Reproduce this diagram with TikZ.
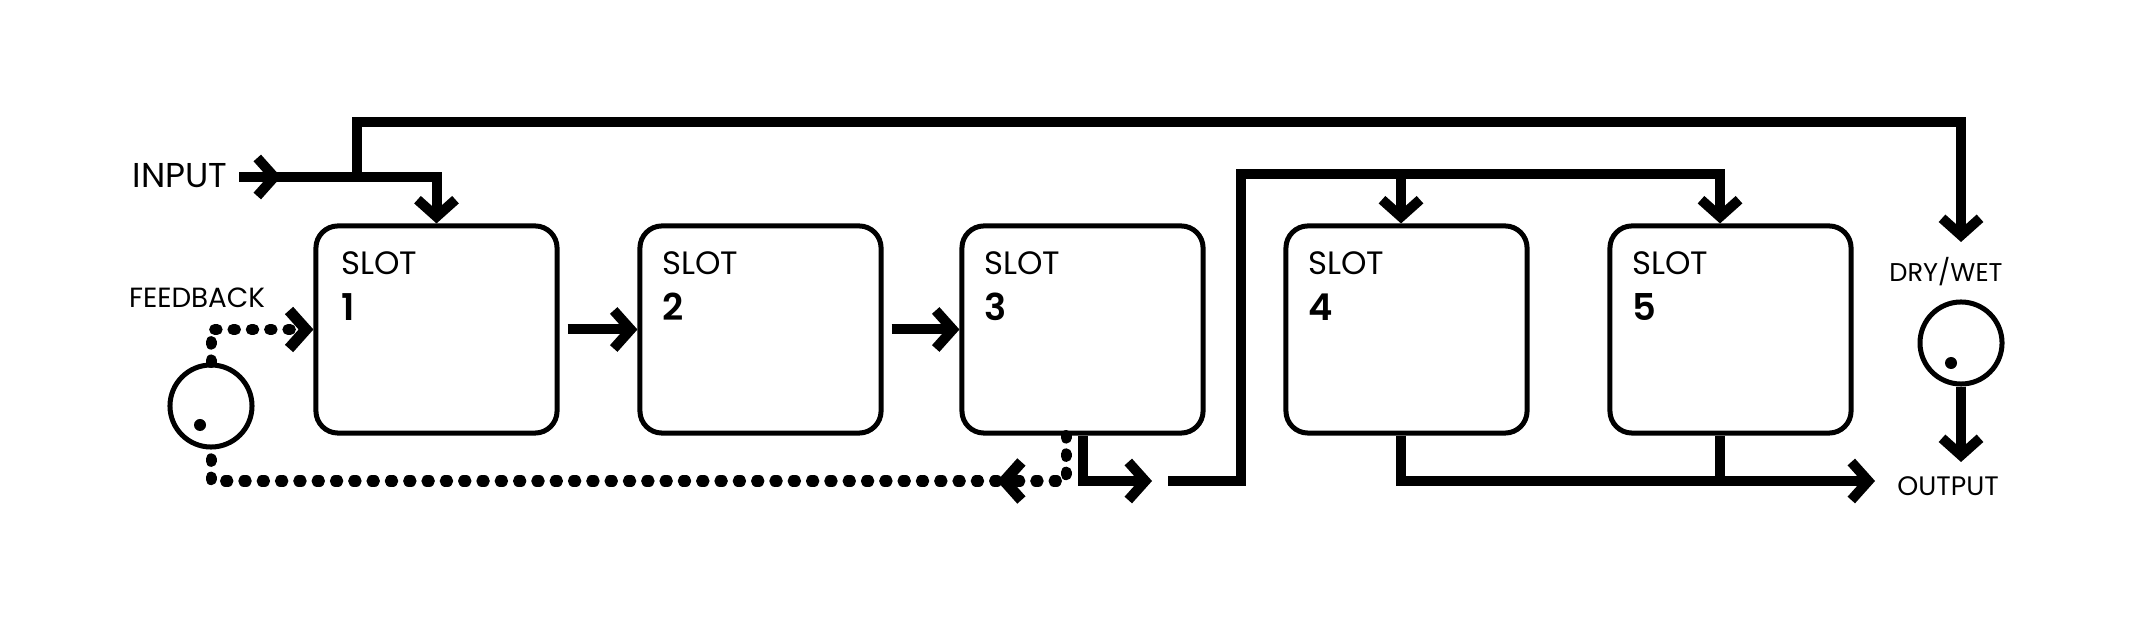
\documentclass[tikz,border=0pt]{standalone}
\usepackage{fontspec}
\setmainfont{Poppins}
\newfontfamily\numfont{Poppins SemiBold}
\usetikzlibrary{arrows.meta,positioning}

\begin{document}
\begin{tikzpicture}[x=0.01cm,y=-0.01cm,
  wire/.style={line width=0.1cm},
  dots/.style={line width=0.11cm,line cap=round,dash pattern=on 0.025cm off 0.158cm},
  slot/.style={draw,line width=0.05cm,rounded corners=0.22cm,minimum width=2.41cm,minimum height=2.07cm,inner sep=0},
  knob/.style={draw,circle,line width=0.05cm,minimum size=0.82cm,inner sep=0},
  slottxt/.style={inner sep=0,anchor=base west,font=\fontsize{9.2}{11}\selectfont},
  slotnum/.style={inner sep=0,anchor=base west,font=\fontsize{10.5}{12}\numfont},
  lbl/.style={inner sep=0,anchor=base,font=\fontsize{7.3}{8}\selectfont},
  >={Straight Barb[length=0.17cm,width=0.38cm]}]
\useasboundingbox (0,0) rectangle (2134,625);
\node[slot] (s1) at (436.5,329.5) {};
\node[slot] (s2) at (760.5,329.5) {};
\node[slot] (s3) at (1082.5,329.5) {};
\node[slot] (s4) at (1406.5,329.5) {};
\node[slot] (s5) at (1730.5,329.5) {};
\node[slottxt] (t1) at ([shift={(0.27cm,-0.51cm)}]s1.north west) {SLOT};
\node[slottxt] (t2) at ([shift={(0.24cm,-0.51cm)}]s2.north west) {SLOT};
\node[slottxt] (t3) at ([shift={(0.24cm,-0.51cm)}]s3.north west) {SLOT};
\node[slottxt] (t4) at ([shift={(0.24cm,-0.51cm)}]s4.north west) {SLOT};
\node[slottxt] (t5) at ([shift={(0.24cm,-0.51cm)}]s5.north west) {SLOT};
\node[slotnum] (n1) at ([shift={(0.27cm,-0.97cm)}]s1.north west) {1};
\node[slotnum] (n2) at ([shift={(0.24cm,-0.97cm)}]s2.north west) {2};
\node[slotnum] (n3) at ([shift={(0.24cm,-0.97cm)}]s3.north west) {3};
\node[slotnum] (n4) at ([shift={(0.24cm,-0.97cm)}]s4.north west) {4};
\node[slotnum] (n5) at ([shift={(0.24cm,-0.97cm)}]s5.north west) {5};
\node[knob] (fb) at (211,406) {};
\node[knob] (dw) at (1961,343) {};
\fill (200,425) circle (0.06cm);
\fill (1951,363) circle (0.06cm);
\node[inner sep=0,anchor=base east,font=\fontsize{9.8}{11}\selectfont] (in) at (228,188) {INPUT};
\node[lbl,font=\fontsize{7.9}{9}\selectfont] (fbl) at (197,308) {FEEDBACK};
\node[lbl] (dwl) at (1946,282) {DRY/WET};
\node[lbl,font=\fontsize{7.6}{9}\selectfont] (out) at (1948,495) {OUTPUT};
\coordinate (inA) at (239,177);
\coordinate (inT) at (281,177);
\coordinate (inJ) at (357,177);
\coordinate (tR) at (1961,122);
\coordinate (dwT) at (1961,242);
\coordinate (dwO) at (1961,462);
\coordinate (s3o) at (1152,481);
\coordinate (bA) at (1168,481);
\coordinate (bB) at (1241,174);
\coordinate (d4) at (1401,174);
\coordinate (d5) at (1720,174);
\coordinate (outT) at (1875,481);
\coordinate (fbT) at (997,481);
\draw[wire,->] (inA) -| (s1.north);
\draw[wire,->] (inA) -- (inT);
\draw[wire,->] (inJ) |- (tR) -- (dwT);
\draw[wire,->] (dw.south) -- (dwO);
\draw[wire,->] ([xshift=0.08cm]s1.east) -- (s2.west);
\draw[wire,->] ([xshift=0.08cm]s2.east) -- (s3.west);
\draw[wire,->] (s3.south) |- (s3o);
\draw[wire,->] (bA) -| (bB) -- (d5) -- (d5 |- s5.north);
\draw[wire,->] (d4) -- (d4 |- s4.north);
\draw[wire,->] (s4.south -| d4) |- (outT);
\draw[wire] (s5.south -| d5) -- (d5 |- outT);
\draw[dots,->] (fb.north) |- (s1.west);
\draw[dots,->] ([xshift=-0.165cm]s3.south) |- (fbT);
\draw[dots] (fbT) -| (fb.south);
\end{tikzpicture}
\end{document}
